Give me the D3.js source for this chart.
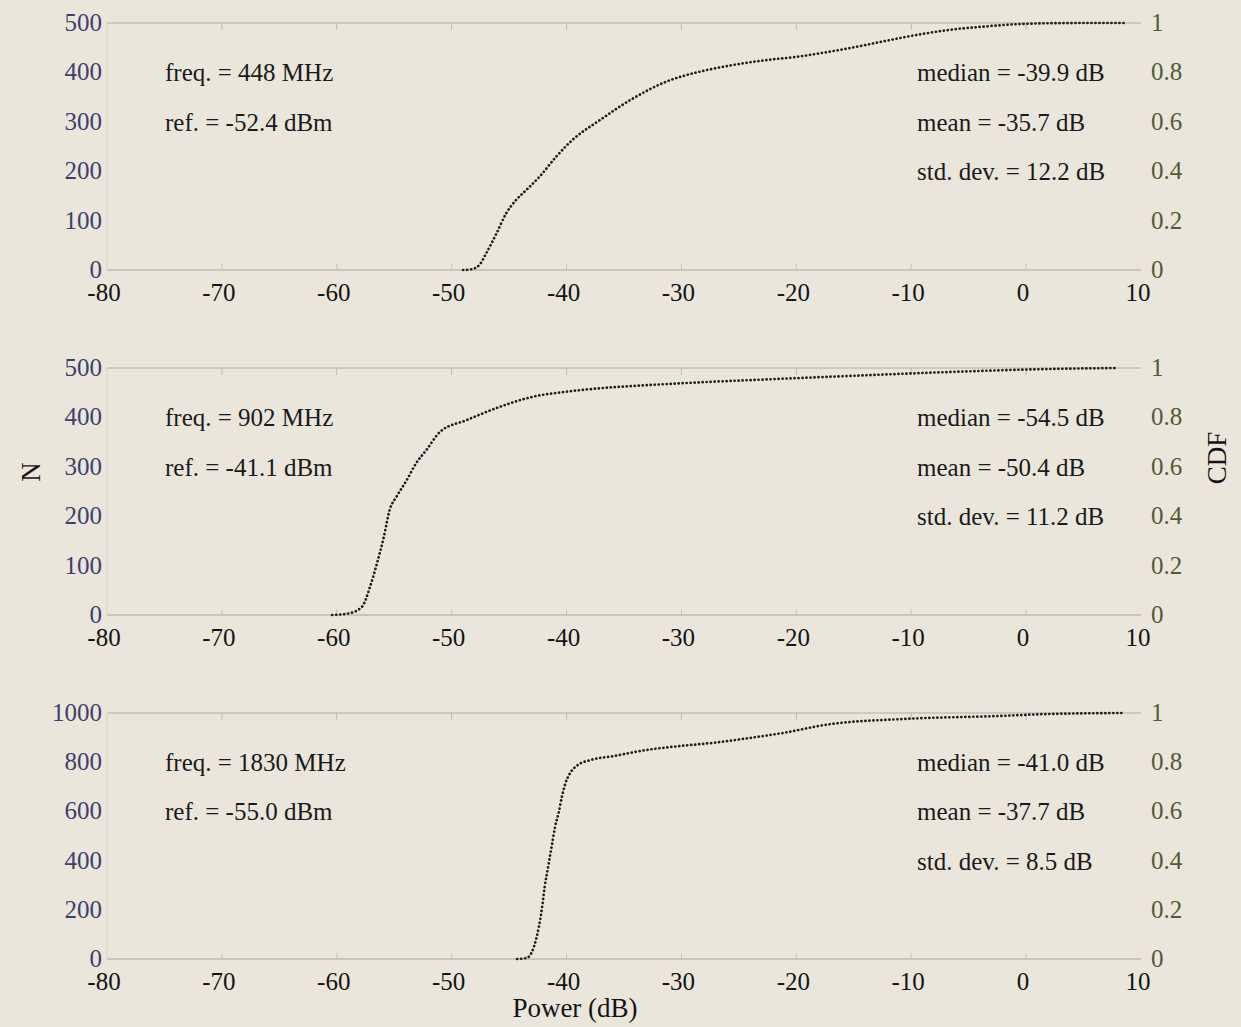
<!DOCTYPE html>
<html><head><meta charset="utf-8">
<script src="https://cdn.jsdelivr.net/npm/d3@7"></script>
<style>
html,body{margin:0;padding:0;background:#ebe6dc;}
svg{display:block;}
text{font-family:"Liberation Serif","Times New Roman",serif;}
</style></head>
<body>
<svg id="chart" width="1241" height="1027"></svg>
<script>
// ---------- data ----------
const xTicks = [-80,-70,-60,-50,-40,-30,-20,-10,0,10];
const cdfTicks = [0,0.2,0.4,0.6,0.8,1];
const cdfTickLabels = ["0","0.2","0.4","0.6","0.8","1"];

const nTicks448 = [0,100,200,300,400,500];
const nTicks902 = [0,100,200,300,400,500];
const nTicks1830 = [0,200,400,600,800,1000];

const power448 = [-49.0,-48.3,-47.6,-47.0,-46.1,-45.25,-44.4,-43.5,-42.35,-40.9,-39.5,-37.1,-34.2,-31.3,-28.4,-25.5,-22.6,-19.8,-18.0,-15.5,-12.5,-9.6,-6.7,-3.8,-0.9,2.0,5.0,8.8];
const cdf448   = [0,0.003,0.02,0.067,0.148,0.23,0.283,0.324,0.378,0.459,0.526,0.607,0.695,0.763,0.803,0.83,0.85,0.864,0.877,0.897,0.925,0.951,0.972,0.985,0.995,0.999,1.0,1.0];

const power902 = [-60.4,-58.9,-57.8,-57.1,-56.5,-55.9,-55.4,-54.8,-53.9,-53.1,-52.2,-51.0,-48.7,-45.8,-42.9,-40.0,-37.1,-34.2,-31.3,-28.4,-24.0,-15.3,-6.6,2.1,8.0];
const cdf902   = [0,0.007,0.034,0.115,0.209,0.317,0.425,0.479,0.547,0.614,0.668,0.742,0.789,0.843,0.884,0.904,0.918,0.927,0.935,0.942,0.951,0.968,0.984,0.996,1.0];

const power1830 = [-44.3,-43.5,-43.0,-42.6,-42.2,-41.9,-41.6,-41.3,-41.0,-40.7,-40.4,-40.1,-39.7,-39.0,-37.9,-35.9,-33.0,-30.1,-27.2,-24.3,-21.4,-17.0,-11.0,-2.3,2.0,8.5];
const cdf1830   = [0,0.004,0.03,0.09,0.186,0.294,0.375,0.456,0.537,0.592,0.66,0.714,0.755,0.789,0.809,0.825,0.85,0.866,0.879,0.897,0.917,0.955,0.975,0.988,0.996,1.0];

const leftNotes448  = ["freq. = 448 MHz","ref. = -52.4 dBm"];
const rightNotes448 = ["median = -39.9 dB","mean = -35.7 dB","std. dev. = 12.2 dB"];
const leftNotes902  = ["freq. = 902 MHz","ref. = -41.1 dBm"];
const rightNotes902 = ["median = -54.5 dB","mean = -50.4 dB","std. dev. = 11.2 dB"];
const leftNotes1830  = ["freq. = 1830 MHz","ref. = -55.0 dBm"];
const rightNotes1830 = ["median = -41.0 dB","mean = -37.7 dB","std. dev. = 8.5 dB"];

const xLabel = "Power (dB)";
const yLeftLabel = "N";
const yRightLabel = "CDF";

// ---------- layout ----------
const svg = d3.select("#chart");
const X0 = 107, X1 = 1141;
const x = d3.scaleLinear().domain([-80,10]).range([X0,X1]);

const panels = [
  {top:23,  bottom:270, nMax:500,  nTicks:nTicks448,  power:power448,  cdf:cdf448,  left:leftNotes448,  right:rightNotes448},
  {top:368, bottom:615, nMax:500,  nTicks:nTicks902,  power:power902,  cdf:cdf902,  left:leftNotes902,  right:rightNotes902},
  {top:713, bottom:959, nMax:1000, nTicks:nTicks1830, power:power1830, cdf:cdf1830, left:leftNotes1830, right:rightNotes1830}
];

const FS = 25;
panels.forEach(p => {
  const yC = d3.scaleLinear().domain([0,1]).range([p.bottom,p.top]);
  const yN = d3.scaleLinear().domain([0,p.nMax]).range([p.bottom,p.top]);
  const g = svg.append("g");

  // frame lines (faint, scanned look)
  g.append("line").attr("x1",X0).attr("x2",X1).attr("y1",p.top).attr("y2",p.top)
    .attr("stroke","#b0aca4").attr("stroke-width",1.2);
  g.append("line").attr("x1",X0).attr("x2",X1).attr("y1",p.bottom).attr("y2",p.bottom)
    .attr("stroke","#a8a49c").attr("stroke-width",1.2);
  g.append("line").attr("x1",X0).attr("x2",X0).attr("y1",p.top).attr("y2",p.bottom)
    .attr("stroke","#d6d1c7").attr("stroke-width",1);

  // x ticks (inward, faint)
  g.selectAll(".xt").data(xTicks.slice(1,-1)).enter().append("line")
    .attr("x1",d=>x(d)).attr("x2",d=>x(d)).attr("y1",p.top).attr("y2",p.top+7)
    .attr("stroke","#bdb9b1").attr("stroke-width",1);
  g.selectAll(".xb").data(xTicks.slice(1,-1)).enter().append("line")
    .attr("x1",d=>x(d)).attr("x2",d=>x(d)).attr("y1",p.bottom).attr("y2",p.bottom-6)
    .attr("stroke","#c8c4bc").attr("stroke-width",1);

  // x tick labels
  g.selectAll(".xl").data(xTicks).enter().append("text")
    .attr("x",d=>x(d)-3).attr("y",p.bottom+31)
    .attr("text-anchor","middle").attr("font-size",FS).attr("fill","#141414")
    .text(d=>d);

  // left N tick labels
  g.selectAll(".nl").data(p.nTicks).enter().append("text")
    .attr("x",102).attr("y",d=>yN(d)+8)
    .attr("text-anchor","end").attr("font-size",FS).attr("fill","#3e406c")
    .text(d=>d);

  // right CDF tick labels
  g.selectAll(".cl").data(cdfTicks).enter().append("text")
    .attr("x",1151).attr("y",d=>yC(d)+8)
    .attr("text-anchor","start").attr("font-size",FS).attr("fill","#4e5c34")
    .text((d,i)=>cdfTickLabels[i]);

  // CDF curve (dotted)
  const pts = p.power.map((v,i)=>[v,p.cdf[i]]);
  const line = d3.line().x(d=>x(d[0])).y(d=>yC(d[1])).curve(d3.curveMonotoneX);
  g.append("path").attr("d",line(pts)).attr("fill","none")
    .attr("stroke","#1e1e1e").attr("stroke-width",2.7)
    .attr("stroke-linecap","round").attr("stroke-dasharray","0.1 3.9");

  // annotations
  const leftLv = [0.8,0.6];
  p.left.forEach((t,i)=>{
    g.append("text").attr("x",165).attr("y",yC(leftLv[i])+9)
      .attr("font-size",FS).attr("fill","#1a1a1a").text(t);
  });
  const rightLv = [0.8,0.6,0.4];
  p.right.forEach((t,i)=>{
    g.append("text").attr("x",917).attr("y",yC(rightLv[i])+9)
      .attr("font-size",FS).attr("fill","#1a1a1a").text(t);
  });
});

// axis titles
svg.append("text").attr("x",575).attr("y",1017).attr("text-anchor","middle")
  .attr("font-size",27).attr("fill","#141414").text(xLabel);
svg.append("text").attr("transform","translate(40,472) rotate(-90)")
  .attr("text-anchor","middle").attr("font-size",27).attr("fill","#141414").text(yLeftLabel);
svg.append("text").attr("transform","translate(1226,458) rotate(-90)")
  .attr("text-anchor","middle").attr("font-size",27).attr("fill","#141414").text(yRightLabel);
</script>
</body></html>
